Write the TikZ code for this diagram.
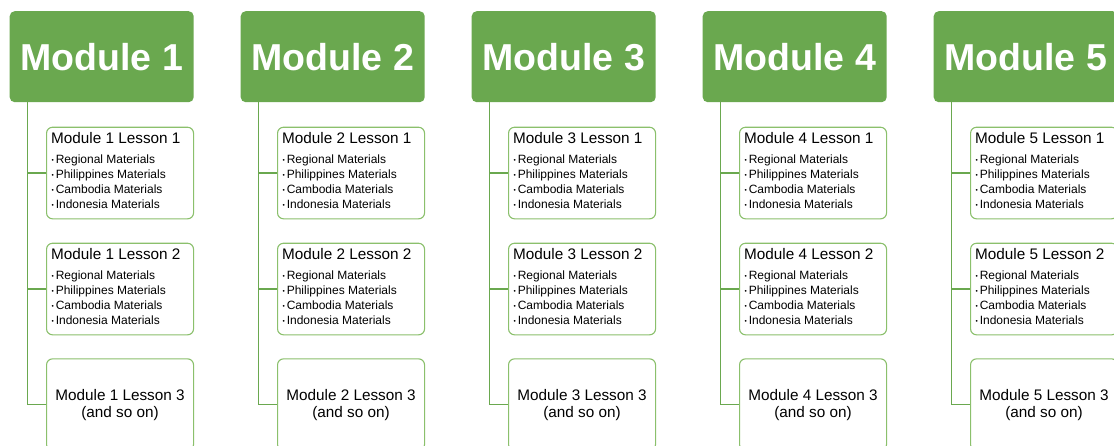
\documentclass[tikz,border=0pt]{standalone}
\usepackage{fontspec}
\setmainfont{Liberation Sans}
\definecolor{hdr}{HTML}{6AA84F}
\definecolor{bdr}{HTML}{8BC06C}
\definecolor{lnk}{HTML}{6AA84F}
\begin{document}
\begin{tikzpicture}[x=1pt,y=-1pt,
 header/.style={fill=hdr, draw=none, rounded corners=5pt, minimum width=184pt, minimum height=91pt, anchor=north west, inner sep=0pt, text=white, font=\fontsize{37.5}{40}\selectfont\bfseries},
 lessonbox/.style={draw=bdr, line width=1.1pt, rounded corners=6pt, minimum width=147pt, minimum height=91.6pt, anchor=north west, inner sep=0pt, fill=white},
 ltitle/.style={anchor=base west, inner sep=0pt, font=\fontsize{15.3}{18}\selectfont},
 item/.style={anchor=base west, inner sep=0pt, font=\fontsize{12}{14}\selectfont},
 link/.style={draw=lnk, line width=1.1pt}]
\useasboundingbox (0,0) rectangle (1114,446);
\clip (0,0) rectangle (1114,446);
\fill[white] (0,0) rectangle (1114,446);
\foreach \m in {1,...,5}{
  \pgfmathsetmacro\dx{231*(\m-1)}
  \coordinate (v\m) at (27.3+\dx,102);
  \node[header] (h\m) at (9.5+\dx,11) {Module \m};
  \foreach \L/\tp/\n in {a/126.7/1, b/242.7/2}{
    \node[lessonbox] (\L-\m) at (46+\dx,\tp) {};
    \node[ltitle] (\L-t-\m) at (51+\dx,\tp+16.6) {Module \m{} Lesson \n};
    \foreach \k/\txt in {0/Regional, 1/Philippines, 2/Cambodia, 3/Indonesia}{
      \node[item] (\L-i\k-\m) at (51.3+\dx,\tp+37.3+15*\k) {\raisebox{1.3pt}{\fontsize{6.5}{6.5}\selectfont •}\hspace{2pt}\txt{} Materials};
    }
    \draw[link] (v\m |- \L-\m.west) -- (\L-\m.west);
  }
  \node[lessonbox, align=center, font=\fontsize{15.3}{17}\selectfont] (c-\m) at (46+\dx,358.3) {Module \m{} Lesson 3\\(and so on)};
  \draw[link] (v\m) |- (c-\m.west);
}
\end{tikzpicture}
\end{document}
